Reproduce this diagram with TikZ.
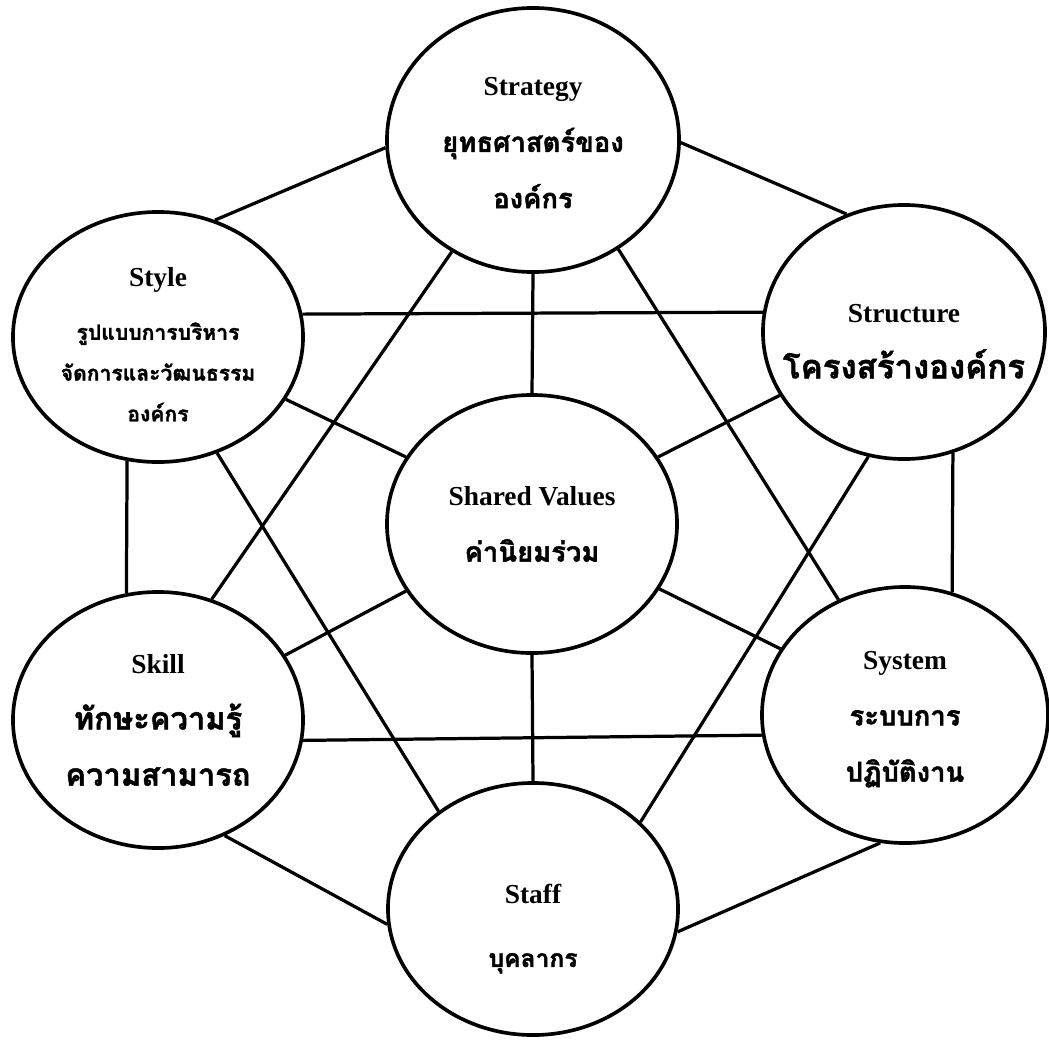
\documentclass[tikz,border=0pt]{standalone}
\usepackage{fontspec}
\setmainfont{Liberation Serif}
\newfontfamily\thaifont[Script=Thai, FakeBold=1.5]{Loma}
\usetikzlibrary{shapes.geometric}

% strut that pushes a node's text down
\newcommand\dropby[1]{\rule{0pt}{#1}}

\begin{document}
\begin{tikzpicture}[x=0.025cm, y=-0.025cm]
    \tikzset{
        sbox/.style={
            draw, ellipse, line width=2.6pt, inner sep=0pt, align=center,
            font=\bfseries\fontsize{19.5}{40}\selectfont
        },
        link/.style={line width=2.3pt}
    }
    \useasboundingbox (0,0) rectangle (1049,1039);

    % --- THE SEVEN ELEMENTS ---
    \node[sbox, minimum width=7.3cm, minimum height=6.6cm] (strategy) at (533,140)
        {\dropby{17pt}Strategy\\ {\thaifont ยุทธศาสตร์ของ}\\ {\thaifont องค์กร}};
    \node[sbox, minimum width=7.25cm, minimum height=6.25cm,
          font=\bfseries\fontsize{19.5}{29}\selectfont] (style) at (158,337)
        {\dropby{24pt}Style\\[9pt] {\thaifont\fontsize{15}{29}\selectfont รูปแบบการบริหาร}\\
         {\thaifont\fontsize{15}{29}\selectfont จัดการและวัฒนธรรม}\\
         {\thaifont\fontsize{15}{29}\selectfont องค์กร}};
    \node[sbox, minimum width=7.05cm, minimum height=6.35cm] (structure) at (904,332)
        {\dropby{26pt}Structure\\
         \makebox[0pt]{\thaifont\fontsize{23.5}{40}\selectfont โครงสร้างองค์กร}};
    \node[sbox, minimum width=7.25cm, minimum height=6.45cm] (shared) at (532,524)
        {Shared Values\\ {\thaifont ค่านิยมร่วม}};
    \node[sbox, minimum width=7.25cm, minimum height=6.4cm] (skill) at (158,720)
        {Skill\\ {\thaifont\fontsize{22}{41}\selectfont ทักษะความรู้}\\
         {\thaifont\fontsize{22}{41}\selectfont ความสามารถ}};
    \node[sbox, minimum width=7.15cm, minimum height=6.4cm] (system) at (905,715)
        {\dropby{19pt}System\\ {\thaifont ระบบการ}\\ {\thaifont ปฏิบัติงาน}};
    \node[sbox, minimum width=7.25cm, minimum height=6.3cm,
          font=\bfseries\fontsize{19.5}{45}\selectfont] (staff) at (533,909)
        {\dropby{42pt}Staff\\ {\thaifont\fontsize{17.5}{45}\selectfont บุคลากร}};

    % --- LINKS (every pair except through the centre) ---
    \foreach \a/\b in {strategy.183/style.64, strategy.359/structure.116,
                       strategy.270/shared.90, strategy.234/skill.66,
                       strategy.308/system.120, style.9/structure.172,
                       style.334/shared.152, style.256/skill.104,
                       style.297/staff.134, structure.207/shared.28,
                       structure.292/system.69, structure.254/staff.39,
                       skill.27/shared.208, skill.352/system.188,
                       skill.300/staff.186, system.152/shared.333,
                       system.259/staff.351, shared.270/staff.90}
        \draw[link] (\a) -- (\b);
\end{tikzpicture}
\end{document}
